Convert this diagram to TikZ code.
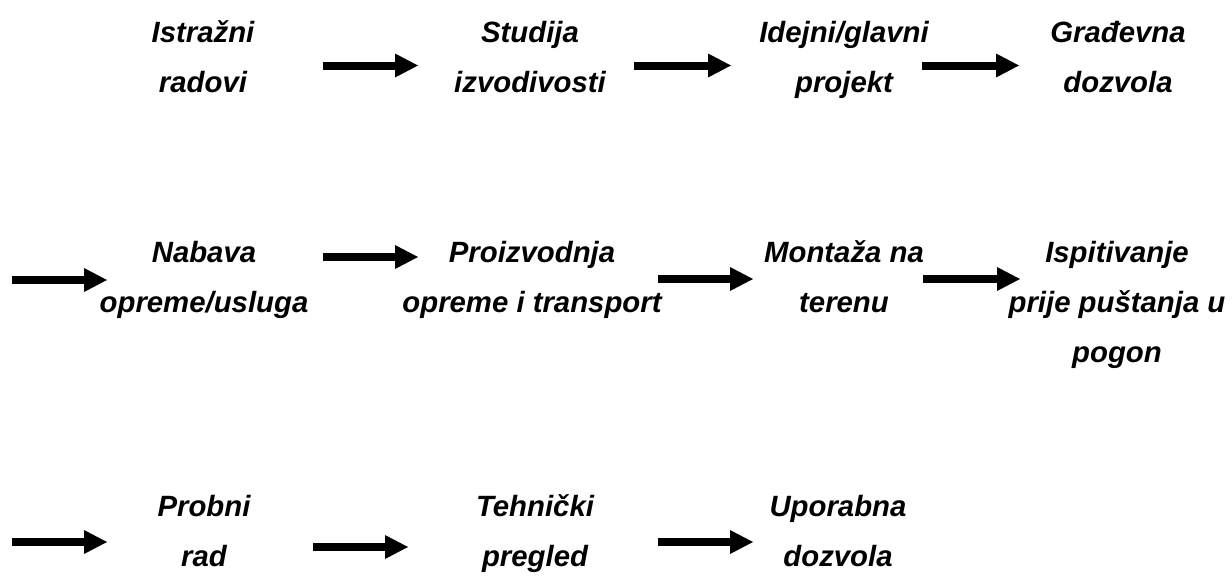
\documentclass[tikz,border=0pt]{standalone}
\usepackage{fontspec}
\setmainfont{Liberation Sans}
\usetikzlibrary{arrows.meta}
\newcommand\lns[1]{\begin{tabular}[t]{@{}c@{}}#1\end{tabular}}
\begin{document}
\begin{tikzpicture}[x=0.75pt,y=-0.75pt,
  lbl/.style={anchor=base, inner sep=0pt, font=\fontsize{22}{37.5}\selectfont\bfseries\itshape},
  blockarrow/.style={line width=6pt, -{Triangle[length=17.25pt,width=18pt,line width=0pt]}}]
\useasboundingbox (0,0) rectangle (1232,586);
% Row 1
\node[lbl] (istr) at (203,42) {\lns{Istražni\\radovi}};
\node[lbl] (stud) at (530,42) {\lns{Studija\\izvodivosti}};
\node[lbl] (idej) at (844,42) {\lns{Idejni/glavni\\projekt}};
\node[lbl] (grad) at (1118,42) {\lns{Građevna\\dozvola}};
\coordinate (a1s) at (323,65.5); \coordinate (a1e) at (418,65.5);
\coordinate (a2s) at (634,65.5); \coordinate (a2e) at (731,65.5);
\coordinate (a3s) at (922,65.5); \coordinate (a3e) at (1019,65.5);
\draw[blockarrow] (a1s) -- (a1e);
\draw[blockarrow] (a2s) -- (a2e);
\draw[blockarrow] (a3s) -- (a3e);
% Row 2
\node[lbl] (nab) at (204,262) {\lns{Nabava\\opreme/usluga}};
\node[lbl] (proi) at (532,262) {\lns{Proizvodnja\\opreme i transport}};
\node[lbl] (mont) at (844,262) {\lns{Montaža na\\terenu}};
\node[lbl] (isp) at (1117,262) {\lns{Ispitivanje\\prije puštanja u\\pogon}};
\coordinate (b0s) at (12,280); \coordinate (b0e) at (107,280);
\coordinate (b1s) at (323,257); \coordinate (b1e) at (418,257);
\coordinate (b2s) at (658,279); \coordinate (b2e) at (753,279);
\coordinate (b3s) at (923,279); \coordinate (b3e) at (1020,279);
\draw[blockarrow] (b0s) -- (b0e);
\draw[blockarrow] (b1s) -- (b1e);
\draw[blockarrow] (b2s) -- (b2e);
\draw[blockarrow] (b3s) -- (b3e);
% Row 3
\node[lbl] (prob) at (204,516) {\lns{Probni\\rad}};
\node[lbl] (tehn) at (535,516) {\lns{Tehnički\\pregled}};
\node[lbl] (upor) at (838,516) {\lns{Uporabna\\dozvola}};
\coordinate (c0s) at (12,542); \coordinate (c0e) at (107,542);
\coordinate (c1s) at (313,547); \coordinate (c1e) at (408,547);
\coordinate (c2s) at (658,542); \coordinate (c2e) at (753,542);
\draw[blockarrow] (c0s) -- (c0e);
\draw[blockarrow] (c1s) -- (c1e);
\draw[blockarrow] (c2s) -- (c2e);
\end{tikzpicture}
\end{document}
